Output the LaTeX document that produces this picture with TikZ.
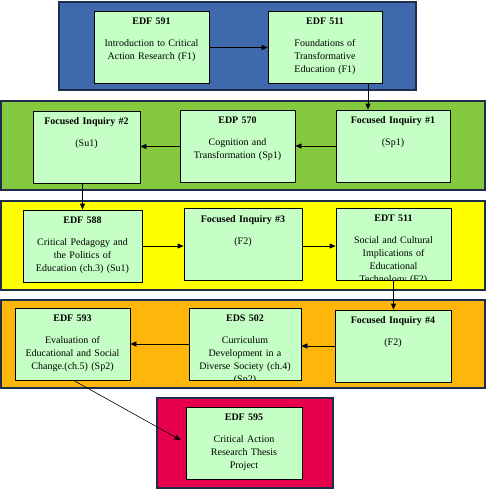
\documentclass[tikz,border=0pt]{standalone}
\usepackage{fontspec}
\setmainfont{Liberation Serif}
\usepackage{xcolor}
\usetikzlibrary{arrows.meta, positioning, calc}
\definecolor{bandblue}{HTML}{3E69AC}
\definecolor{bandgreen}{HTML}{84C83E}
\definecolor{bandyellow}{HTML}{FFFF00}
\definecolor{bandorange}{HTML}{FFB60B}
\definecolor{bandred}{HTML}{E6004B}
\definecolor{bandline}{HTML}{1F2D4A}
\definecolor{boxgreen}{HTML}{C6FFC6}
% name, centre, width, title, body
\newcommand{\coursebox}[5]{%
  \node[box, minimum width=#3] (#1) at (#2) {};
  \begin{scope}
    \clip (#1.south west) rectangle (#1.north east);
    \node[boxtext] (#1-t) at ([yshift=-7pt]#1.north) {\textbf{#4}\\[9pt]#5};
  \end{scope}}

\begin{document}
\begin{tikzpicture}[x=1pt, y=-1pt,
    band/.style={draw=bandline, line width=2pt},
    box/.style={draw=black, fill=boxgreen, minimum height=72pt, inner sep=0pt, line width=0.8pt},
    boxtext/.style={anchor=north, align=center, text width=112pt, inner sep=0pt,
      font=\fontsize{10}{13}\selectfont},
    arr/.style={-{Triangle[length=6pt,width=5pt]}, line width=0.8pt}]
  \useasboundingbox (0,0) rectangle (487,490);
  % semester bands
  \draw[band, fill=bandblue]   (59,2)   rectangle (416,90);
  \draw[band, fill=bandgreen]  (1,101)  rectangle (485,190);
  \draw[band, fill=bandyellow] (1,201)  rectangle (485,290);
  \draw[band, fill=bandorange] (1,300)  rectangle (485,388);
  \draw[band, fill=bandred]    (157,398) rectangle (333,488);

  % courses
  \coursebox{edf591}{151.5,47.5}{115pt}{EDF 591}{Introduction to Critical\\Action Research (F1)}
  \coursebox{edf511}{325,47.5}{114pt}{EDF 511}{Foundations of\\Transformative\\Education (F1)}
  \coursebox{fi2}{86.5,147}{107pt}{Focused Inquiry \#2}{(Su1)}
  \coursebox{edp570}{237.5,146.5}{115pt}{EDP 570}{Cognition and\\Transformation (Sp1)}
  \coursebox{fi1}{393,146}{114pt}{Focused Inquiry \#1}{(Sp1)}
  \coursebox{edf588}{82.5,246}{119pt}{EDF 588}{Critical Pedagogy and\\the Politics of\\Education (ch.3) (Su1)}
  \coursebox{fi3}{243,244.5}{118pt}{Focused Inquiry \#3}{(F2)}
  \coursebox{edt511}{393.5,244.5}{115pt}{EDT 511}{Social and Cultural\\Implications of\\Educational\\Technology (F2)}
  \coursebox{edf593}{72.5,344.5}{115pt}{EDF 593}{Evaluation of\\Educational and Social\\Change.(ch.5) (Sp2)}
  \coursebox{eds502}{245,344}{112pt}{EDS 502}{Curriculum\\Development in a\\Diverse Society (ch.4)\\(Sp2)}
  \coursebox{fi4}{393,346}{116pt}{Focused Inquiry \#4}{(F2)}
  \coursebox{edf595}{244,443}{116pt}{EDF 595}{Critical Action\\Research Thesis\\Project}

  % sequence
  \draw[arr] (edf591.east) -- (edf511.west);
  \draw[arr] ([xshift=43pt]edf511.south) -- ([xshift=-25pt]fi1.north);
  \draw[arr] (fi1.west) -- (fi1.west -| edp570.east);
  \draw[arr] (edp570.west) -- (edp570.west -| fi2.east);
  \draw[arr] (fi2.south -| edf588.north) -- (edf588.north);
  \draw[arr] (edf588.east) -- (edf588.east -| fi3.west);
  \draw[arr] (edf588.east -| fi3.east) -- (edf588.east -| edt511.west);
  \draw[arr] (edt511.south) -- (edt511.south |- fi4.north);
  \draw[arr] (fi4.west) -- (fi4.west -| eds502.east);
  \draw[arr] (eds502.west) -- (eds502.west -| edf593.east);
  \draw[arr, line width=0.6pt] ([xshift=2pt]edf593.south) -- ([xshift=-5pt,yshift=3pt]edf595.west);
\end{tikzpicture}
\end{document}
